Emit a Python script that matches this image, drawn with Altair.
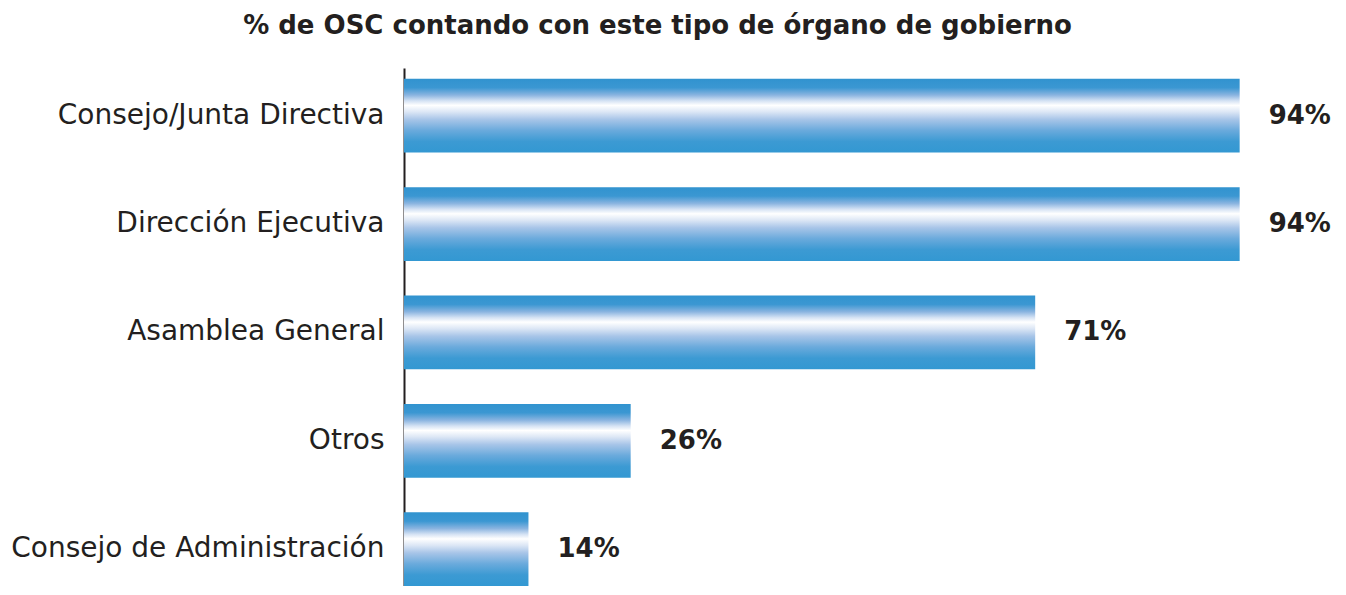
import altair as alt
import pandas as pd

categories = ["Consejo/Junta Directiva", "Dirección Ejecutiva", "Asamblea General", "Otros", "Consejo de Administración"]
values = [94, 94, 71, 25.5, 14]
labels = ["94%", "94%", "71%", "26%", "14%"]

df = pd.DataFrame({"cat": categories, "val": values, "lab": labels})

FONT = "DejaVu Sans"
DARK = "#231f20"

grad = alt.Gradient(
    gradient="linear",
    x1=0, x2=0, y1=0, y2=1,
    stops=[
        alt.GradientStop(offset=0.0, color="#3193cf"),
        alt.GradientStop(offset=0.12, color="#3b97d2"),
        alt.GradientStop(offset=0.22, color="#8ab4e0"),
        alt.GradientStop(offset=0.30, color="#d6e3f4"),
        alt.GradientStop(offset=0.36, color="#ffffff"),
        alt.GradientStop(offset=0.45, color="#dbe6f5"),
        alt.GradientStop(offset=0.55, color="#a8c5e8"),
        alt.GradientStop(offset=0.70, color="#6aaadc"),
        alt.GradientStop(offset=0.85, color="#3c9ad3"),
        alt.GradientStop(offset=1.0, color="#3398d2"),
    ],
)

y_enc = alt.Y(
    "cat:N",
    sort=categories,
    title=None,
    scale=alt.Scale(paddingInner=0.32, paddingOuter=0.05, align=1),
    axis=alt.Axis(
        ticks=False,
        domain=True,
        domainColor=DARK,
        domainWidth=2,
        labelFont=FONT,
        labelFontSize=28,
        labelColor=DARK,
        labelPadding=20,
        labelLimit=400,
    ),
)
x_enc = alt.X("val:Q", scale=alt.Scale(domain=[0, 100]), axis=None)

bars = alt.Chart(df).mark_bar(color=grad).encode(x=x_enc, y=y_enc)
text = alt.Chart(df).mark_text(
    align="left", baseline="middle", dx=29, font=FONT, fontSize=26, fontWeight="bold", color=DARK
).encode(x=x_enc, y=alt.Y("cat:N", sort=categories), text="lab:N")

chart = (
    alt.layer(bars, text)
    .properties(
        width=889,
        height=518,
        autosize=alt.AutoSizeParams(type="none"),
        padding={"left": 396, "top": 60, "right": 45, "bottom": 0},
        title=alt.TitleParams(
            "% de OSC contando con este tipo de órgano de gobierno",
            font=FONT,
            fontSize=26,
            fontWeight="bold",
            color=DARK,
            anchor="middle",
            dx=-191,
            offset=29,
        ),
    )
    .configure_view(stroke=None)
)

chart.save("out.html", embed_options={"renderer": "svg", "actions": False})
